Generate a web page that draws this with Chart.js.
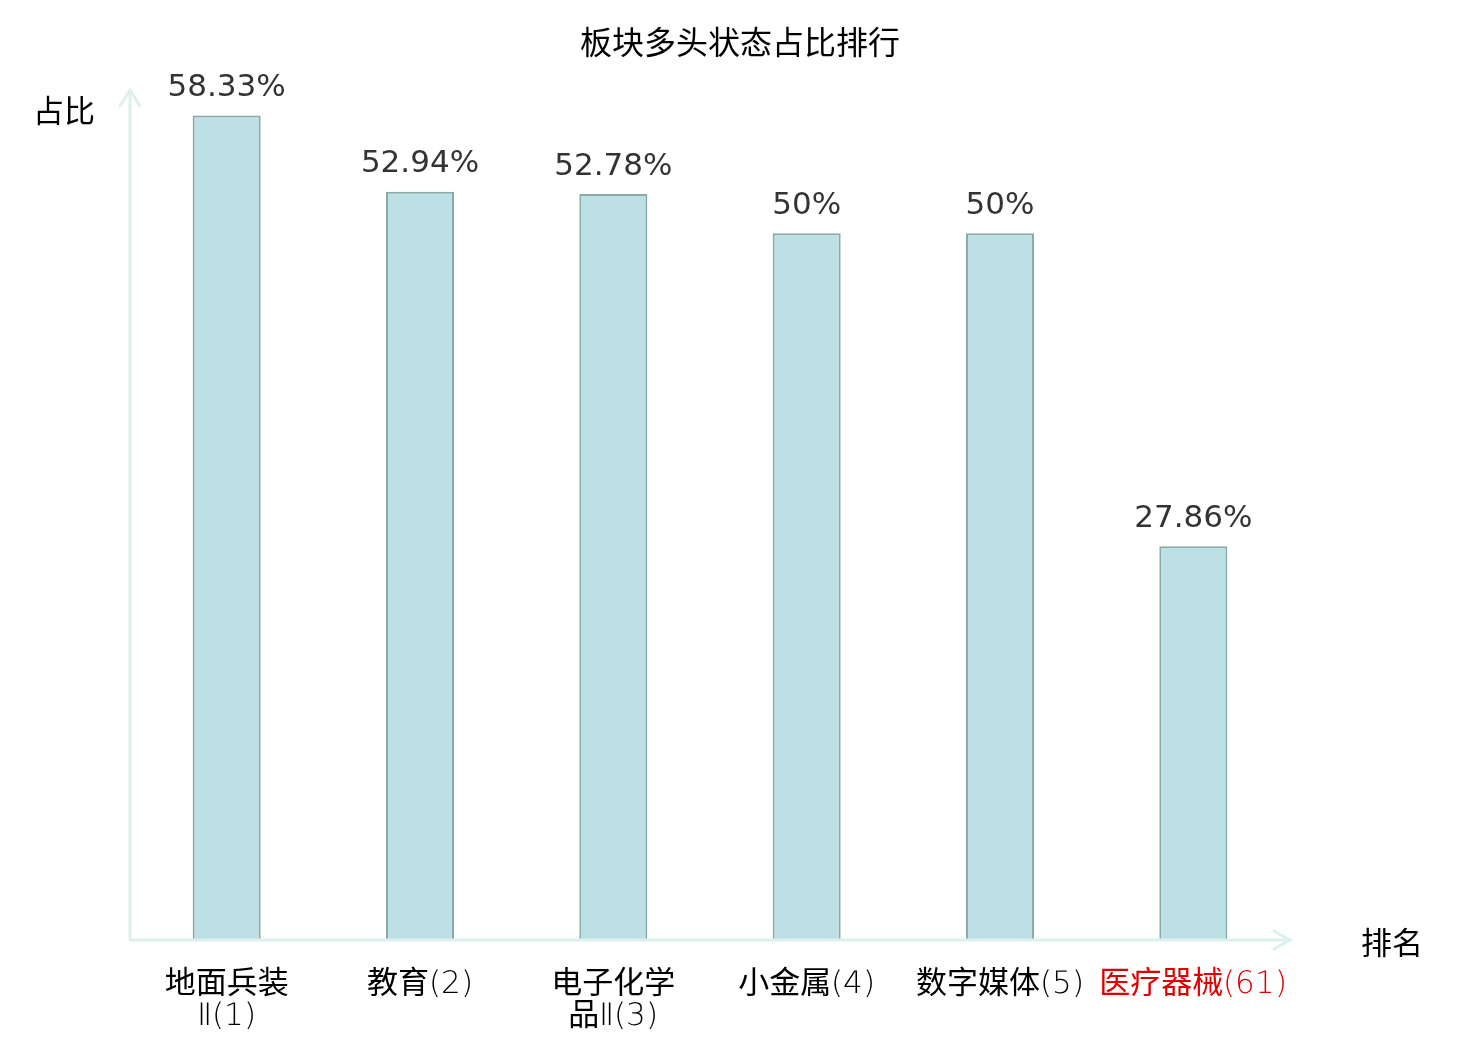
<!DOCTYPE html>
<html>
<head>
<meta charset="utf-8">
<script src="https://cdn.jsdelivr.net/npm/chart.js@4/dist/chart.umd.min.js"></script>
<style>
  @font-face {
    font-family: 'EtiqLatin';
    src: local('DejaVu Sans ExtraLight'), local('DejaVuSans-ExtraLight');
    unicode-range: U+0000-00FF, U+2160-2188;
  }
  html, body { margin: 0; padding: 0; background: #fff; }
  #wrap { width: 1480px; height: 1040px; }
</style>
</head>
<body>
<div id="wrap"><canvas id="myChart" width="1480" height="1040"></canvas></div>
<script>
// datos del grafico
const categorias = [['地面兵装', 'Ⅱ(1)'], '教育(2)', ['电子化学', '品Ⅱ(3)'], '小金属(4)', '数字媒体(5)', '医疗器械(61)'];
const valores = [58.33, 52.94, 52.78, 50, 50, 27.86];
const colorEtiquetas = ['#000', '#000', '#000', '#000', '#000', '#e00000'];
const yMax = 60;

const colorEje = '#dcf1ee';
const fuenteEtiquetas = '"EtiqLatin", "Noto Sans CJK SC"';

// titulo, ejes con flecha, nombres de ejes y etiquetas de valor
const ejesPlugin = {
    id: 'ejes',
    afterDatasetsDraw(chart) {
        const ctx = chart.ctx;
        const a = chart.chartArea;
        ctx.save();
        ctx.strokeStyle = colorEje;
        ctx.lineWidth = 3;
        ctx.lineCap = 'round';
        // eje y
        ctx.beginPath();
        ctx.moveTo(a.left, a.bottom);
        ctx.lineTo(a.left, a.top - 2);
        ctx.moveTo(a.left - 10, a.top + 14);
        ctx.lineTo(a.left, a.top - 2);
        ctx.lineTo(a.left + 10, a.top + 14);
        // eje x
        ctx.moveTo(a.left, a.bottom);
        ctx.lineTo(a.right, a.bottom);
        ctx.moveTo(a.right - 16, a.bottom - 9);
        ctx.lineTo(a.right, a.bottom);
        ctx.lineTo(a.right - 16, a.bottom + 9);
        ctx.stroke();

        ctx.fillStyle = '#000';
        ctx.textBaseline = 'middle';
        ctx.textAlign = 'center';
        ctx.font = '32px "Noto Sans CJK SC"';
        ctx.fillText('板块多头状态占比排行', 740, 42);
        ctx.font = '31px "Noto Sans CJK SC"';
        ctx.textAlign = 'left';
        ctx.fillText('占比', 33, 110);
        ctx.fillText('排名', 1361, 942);

        // etiquetas encima de las barras
        const meta = chart.getDatasetMeta(0);
        ctx.fillStyle = '#333';
        ctx.font = '31px "DejaVu Sans"';
        ctx.textAlign = 'center';
        ctx.textBaseline = 'bottom';
        meta.data.forEach((bar, i) => {
            ctx.fillText(valores[i] + '%', bar.x, bar.y - 12);
        });
        ctx.restore();
    }
};

function crearGrafico() {
    const ctx = document.getElementById('myChart').getContext('2d');

    new Chart(ctx, {
        type: 'bar',
        data: {
            labels: categorias,
            datasets: [{
                data: valores,
                backgroundColor: '#bce0e3',
                borderColor: '#8aa9a9',
                borderWidth: 2,
                categoryPercentage: 1,
                barPercentage: 0.352
            }]
        },
        options: {
            responsive: false,
            animation: false,
            layout: {
                padding: { left: 130, right: 190, top: 92, bottom: 0 }
            },
            plugins: {
                legend: { display: false },
                tooltip: { enabled: false },
                title: { display: false }
            },
            scales: {
                x: {
                    grid: { display: false },
                    border: { display: false },
                    afterFit: (s) => { s.height = 100; },
                    ticks: {
                        color: (c) => colorEtiquetas[c.index],
                        font: { family: fuenteEtiquetas, size: 31, lineHeight: 1.03 },
                        padding: 21,
                        maxRotation: 0,
                        minRotation: 0,
                        autoSkip: false
                    }
                },
                y: {
                    display: false,
                    min: 0,
                    max: yMax
                }
            }
        },
        plugins: [ejesPlugin]
    });
}

document.fonts.load('31px "EtiqLatin"', '(0123456789)Ⅱ')
    .catch(() => {})
    .then(crearGrafico);
</script>
</body>
</html>
